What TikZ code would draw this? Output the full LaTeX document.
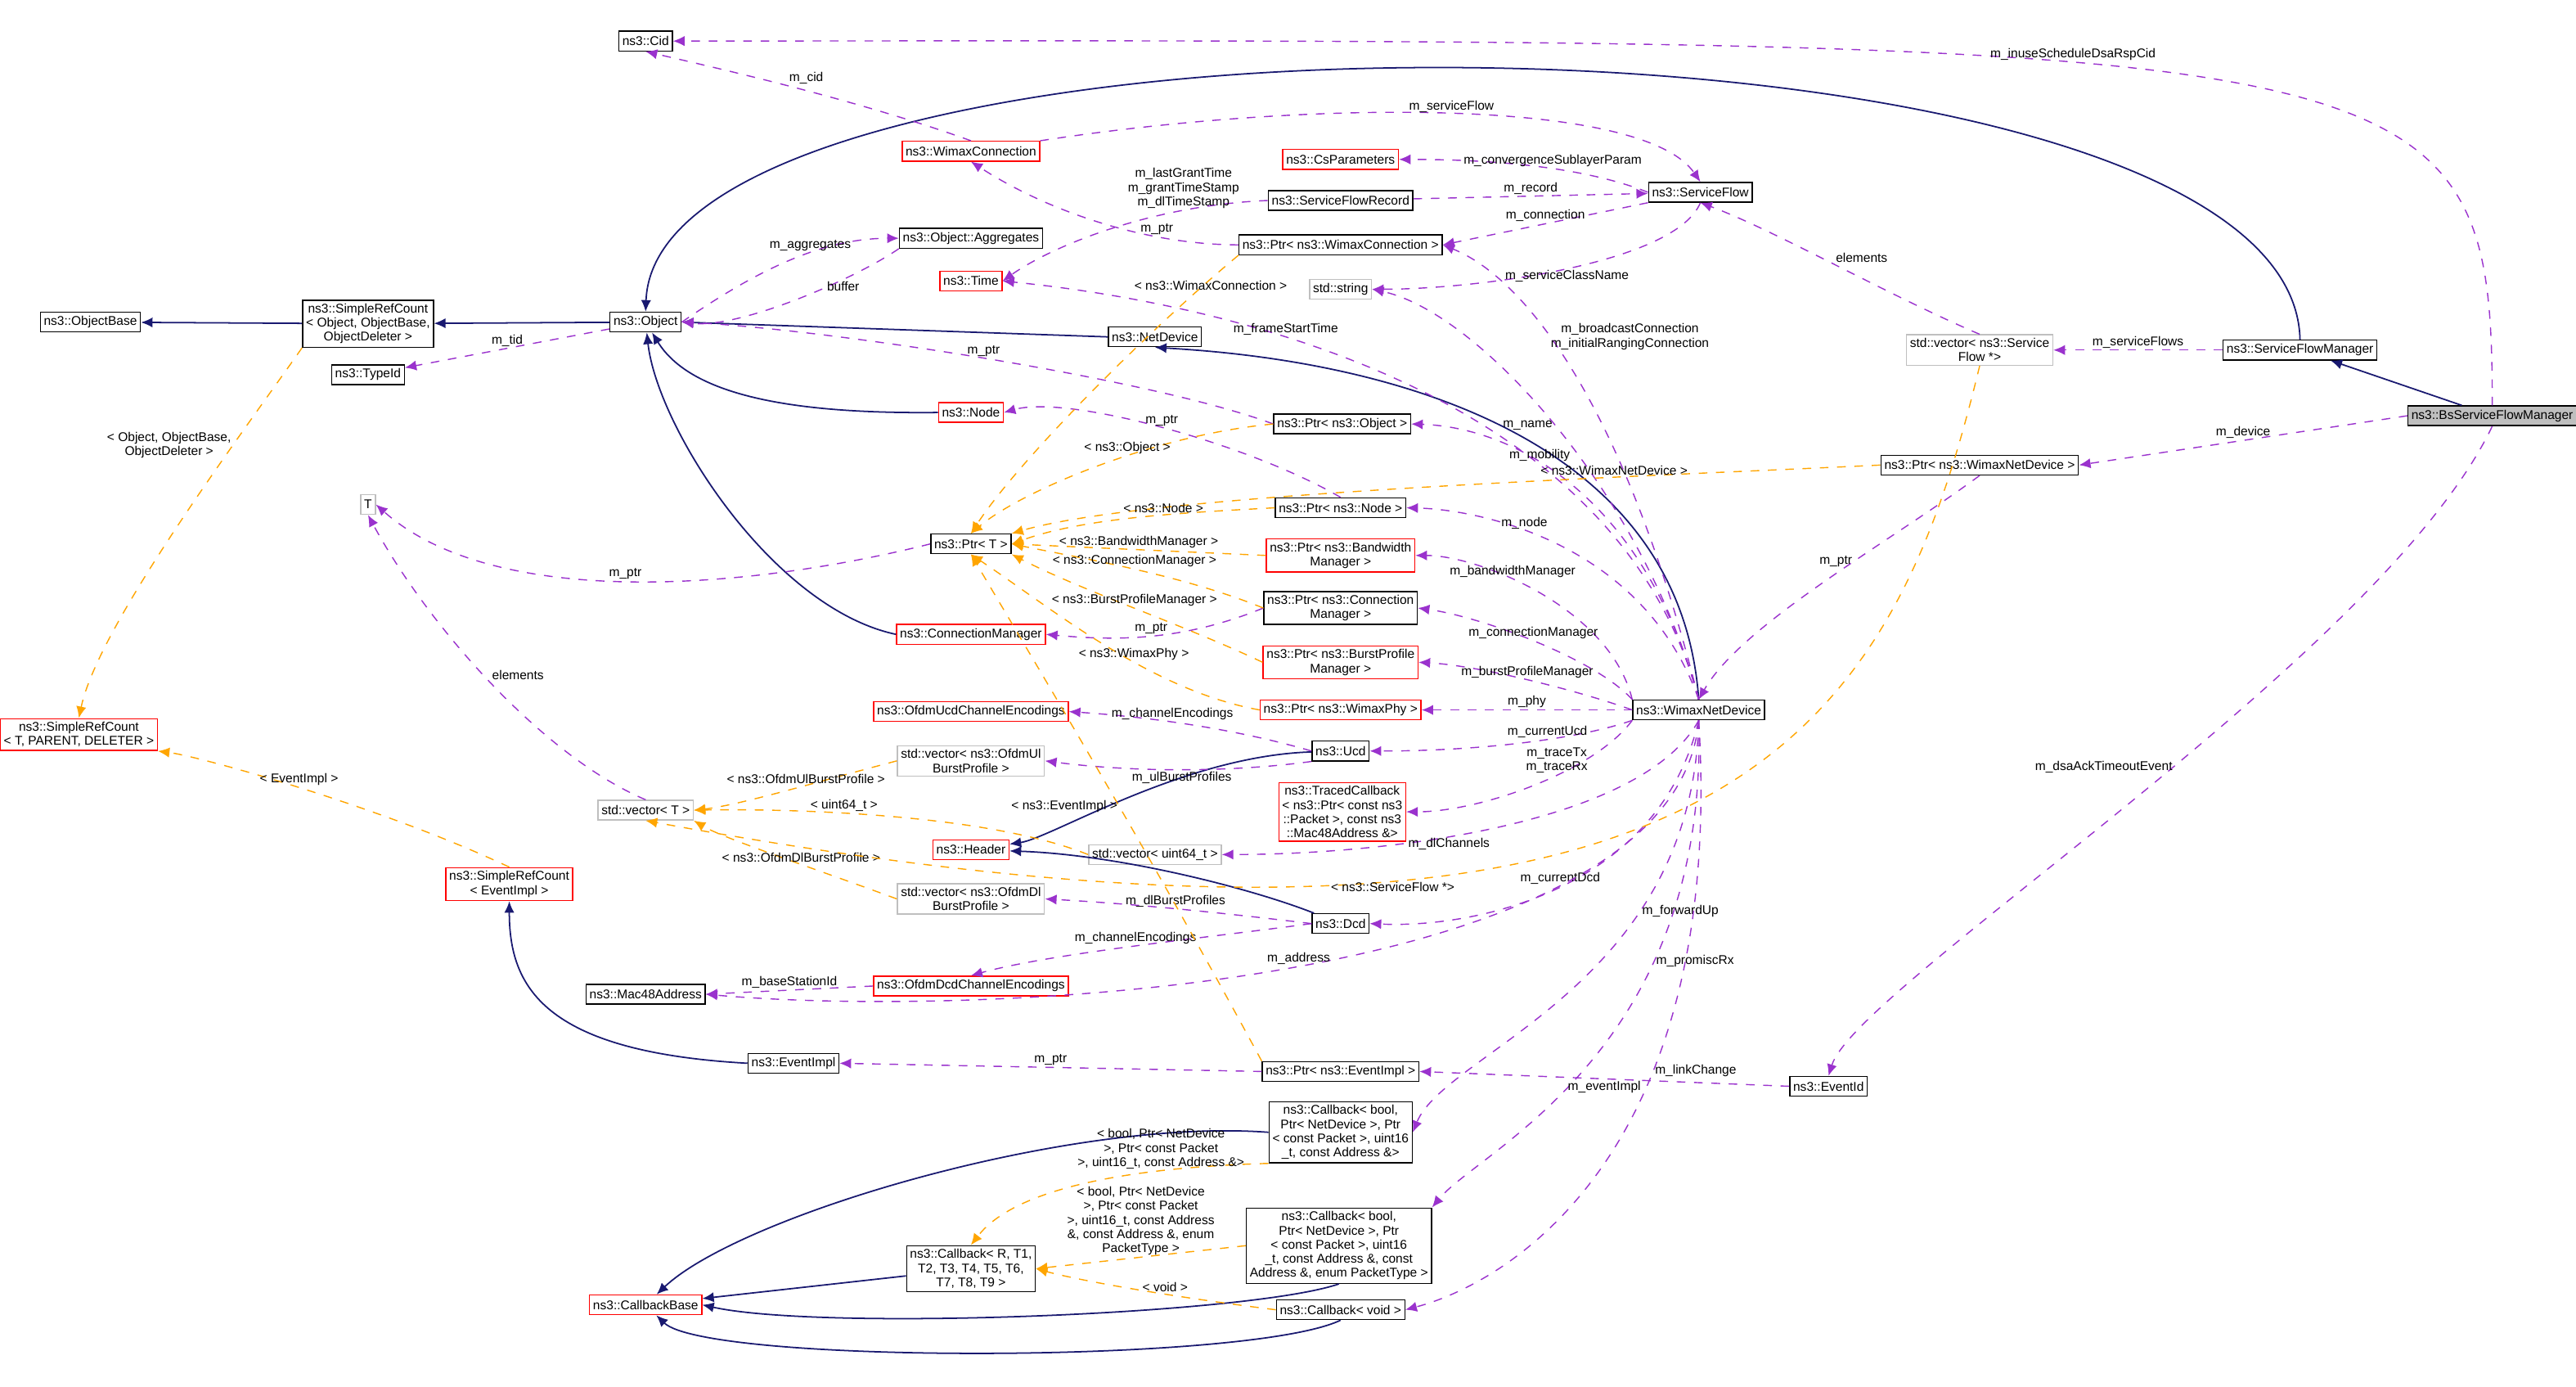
\documentclass[tikz,border=0pt]{standalone}
\usepackage{fontspec}
\setmainfont{Liberation Sans}
\usetikzlibrary{arrows.meta}
\definecolor{inhcol}{HTML}{191970}
\definecolor{usecol}{HTML}{9A32CD}
\definecolor{tplcol}{HTML}{FFA500}
\definecolor{grycol}{HTML}{BFBFBF}
\tikzset{
  cls/.style={draw, fill=white, inner sep=1.2pt, align=center, line width=0.4pt,
    font=\fontsize{4.4}{4.9}\selectfont, minimum height=0.24cm},
  redcls/.style={cls, draw=red},
  grycls/.style={cls, draw=grycol},
  curcls/.style={cls, fill=grycol},
  inh/.style={draw=inhcol, line width=0.5pt, -{Latex[length=4pt,width=3.5pt]}},
  use/.style={draw=usecol, dashed, line width=0.4pt, -{Latex[length=4pt,width=3.5pt]}},
  tpl/.style={draw=tplcol, dashed, line width=0.4pt, -{Latex[length=4pt,width=3.5pt]}},
  lbl/.style={font=\fontsize{4.4}{4.9}\selectfont, align=center, inner sep=0.5pt}
}
\begin{document}
\begin{tikzpicture}[x=0.02cm,y=-0.02cm]
\useasboundingbox (0,0) rectangle (1568,844);
% classes
\node (cid) at (393,25) [cls]{ns3::Cid};
\node (wcon) at (591,92) [redcls]{ns3::WimaxConnection};
\node (csp) at (816,97) [redcls]{ns3::CsParameters};
\node (sflow) at (1035,117) [cls]{ns3::ServiceFlow};
\node (sfrec) at (816,122) [cls]{ns3::ServiceFlowRecord};
\node (aggr) at (591,145) [cls]{ns3::Object::Aggregates};
\node (ptrwcon) at (816,149) [cls]{ns3::Ptr< ns3::WimaxConnection >};
\node (time) at (591,171) [redcls]{ns3::Time};
\node (str) at (816,176) [grycls]{std::string};
\node (objbase) at (55,196) [cls]{ns3::ObjectBase};
\node (srcobj) at (224,197) [cls]{ns3::SimpleRefCount\\< Object, ObjectBase,\\ObjectDeleter >};
\node (object) at (393,196) [cls]{ns3::Object};
\node (netdev) at (703,205) [cls]{ns3::NetDevice};
\node (vecsf) at (1205,213) [grycls]{std::vector< ns3::Service\\Flow *>};
\node (sfm) at (1400,213) [cls]{ns3::ServiceFlowManager};
\node (typeid) at (224,228) [cls]{ns3::TypeId};
\node (bsfm) at (1517,253) [curcls]{ns3::BsServiceFlowManager};
\node (node) at (591,251) [redcls]{ns3::Node};
\node (ptrobj) at (817,258) [cls]{ns3::Ptr< ns3::Object >};
\node (ptrwnd) at (1205,283) [cls]{ns3::Ptr< ns3::WimaxNetDevice >};
\node (ptrnode) at (816,309) [cls]{ns3::Ptr< ns3::Node >};
\node (ptrt) at (591,331) [cls]{ns3::Ptr< T >};
\node (ptrbw) at (816,338) [redcls]{ns3::Ptr< ns3::Bandwidth\\Manager >};
\node (ptrcm) at (816,370) [cls]{ns3::Ptr< ns3::Connection\\Manager >};
\node (conman) at (591,386) [redcls]{ns3::ConnectionManager};
\node (ptrbp) at (816,403) [redcls]{ns3::Ptr< ns3::BurstProfile\\Manager >};
\node (tcls) at (224,307) [grycls]{T};
\node (ptrphy) at (816,432) [redcls]{ns3::Ptr< ns3::WimaxPhy >};
\node (ucdenc) at (591,433) [redcls]{ns3::OfdmUcdChannelEncodings};
\node (wnd) at (1034,432) [cls]{ns3::WimaxNetDevice};
\node (srct) at (48,447) [redcls]{ns3::SimpleRefCount\\< T, PARENT, DELETER >};
\node (ucd) at (816,457) [cls]{ns3::Ucd};
\node (vecul) at (591,463) [grycls]{std::vector< ns3::OfdmUl\\BurstProfile >};
\node (vect) at (393,493) [grycls]{std::vector< T >};
\node (traced) at (817,494) [redcls]{ns3::TracedCallback\\< ns3::Ptr< const ns3\\::Packet >, const ns3\\::Mac48Address \&>};
\node (header) at (591,517) [redcls]{ns3::Header};
\node (vecu64) at (703,520) [grycls]{std::vector< uint64\_t >};
\node (srcev) at (310,538) [redcls]{ns3::SimpleRefCount\\< EventImpl >};
\node (vecdl) at (591,547) [grycls]{std::vector< ns3::OfdmDl\\BurstProfile >};
\node (dcd) at (816,562) [cls]{ns3::Dcd};
\node (mac) at (393,605) [cls]{ns3::Mac48Address};
\node (dcdenc) at (591,600) [redcls]{ns3::OfdmDcdChannelEncodings};
\node (evimpl) at (483,647) [cls]{ns3::EventImpl};
\node (ptrev) at (816,652) [cls]{ns3::Ptr< ns3::EventImpl >};
\node (evid) at (1113,661) [cls]{ns3::EventId};
\node (cbfwd) at (816,689) [cls]{ns3::Callback< bool,\\Ptr< NetDevice >, Ptr\\< const Packet >, uint16\\\_t, const Address \&>};
\node (cbgen) at (591,772) [cls]{ns3::Callback< R, T1,\\T2, T3, T4, T5, T6,\\T7, T8, T9 >};
\node (cbprom) at (815,758) [cls]{ns3::Callback< bool,\\Ptr< NetDevice >, Ptr\\< const Packet >, uint16\\\_t, const Address \&, const\\Address \&, enum PacketType >};
\node (cbbase) at (393,794) [redcls]{ns3::CallbackBase};
\node (cbvoid) at (816,797) [cls]{ns3::Callback< void >};

% inheritance
\draw[inh] (srcobj) -- (objbase);
\draw[inh] (object) -- (srcobj);
\draw[inh] (netdev.west) -- (object.east);
\draw[inh] (node.west) .. controls (480,252) and (420,240) .. (object);
\draw[inh] (conman.west) .. controls (470,370) and (400,260) .. (object);
\draw[inh] (sfm.north) .. controls (1395,-10) and (400,-10) .. (object.north);
\draw[inh] (bsfm) -- (sfm);
\draw[inh] (wnd.north) .. controls (1020,230) and (760,215) .. (netdev.south);
\draw[inh] (ucd) .. controls (720,460) and (640,510) .. (header);
\draw[inh] (dcd) .. controls (760,540) and (680,520) .. (header);
\draw[inh] (evimpl.west) .. controls (330,640) and (310,600) .. (srcev.south);
\draw[inh] (cbgen) -- (cbbase);
\draw[inh] (cbfwd.west) .. controls (650,680) and (450,740) .. (cbbase);
\draw[inh] (cbprom.south) .. controls (760,800) and (500,810) .. (cbbase.east);
\draw[inh] (cbvoid.south) .. controls (760,830) and (430,830) .. (cbbase);

% members
\draw[use] (bsfm.north) .. controls (1517,22) and (1480,24) .. node[lbl, pos=0.6, above]{m\_inuseScheduleDsaRspCid} (cid.east);
\draw[use] (wcon.north) .. controls (520,60) and (430,40) .. node[lbl, pos=0.5, above right]{m\_cid} (cid.south);
\draw[use] (wcon.north east) .. controls (800,60) and (1000,60) .. node[lbl, pos=0.5, above]{m\_serviceFlow} (sflow.north);
\draw[use] (sflow.west) .. controls (960,100) and (900,97) .. node[lbl, pos=0.4, above]{m\_convergenceSublayerParam} (csp.east);
\draw[use] (sfrec) -- node[lbl, above]{m\_record} (sflow);
\draw[use] (sflow.south west) -- node[lbl, above, pos=0.5]{m\_connection} (ptrwcon.east);
\draw[use] (sflow.south) .. controls (1020,160) and (900,176) .. node[lbl, pos=0.5, below]{m\_serviceClassName} (str.east);
\draw[use] (object.east) .. controls (460,165) and (500,145) .. node[lbl, pos=0.6, above]{m\_aggregates} (aggr.west);
\draw[use] (aggr.south west) .. controls (520,170) and (450,200) .. node[lbl, pos=0.3, below]{buffer} (object.east);
\draw[use] (sfrec.west) .. controls (700,125) and (640,150) .. node[lbl, pos=0.25, above]{m\_lastGrantTime\\m\_grantTimeStamp\\m\_dlTimeStamp} (time.east);
\draw[use] (ptrwcon.west) .. controls (700,149) and (640,130) .. node[lbl, pos=0.3, above]{m\_ptr} (wcon.south);
\draw[use] (object) -- node[lbl, above]{m\_tid} (typeid);
\draw[use] (wnd.north) .. controls (990,250) and (930,170) .. node[lbl, pos=0.6, right]{m\_broadcastConnection\\m\_initialRangingConnection} (ptrwcon.east);
\draw[use] (wnd.north) .. controls (1000,300) and (900,190) .. node[lbl, pos=0.5, left]{m\_name} (str.east);
\draw[use] (wnd.north) .. controls (980,220) and (700,180) .. node[lbl, pos=0.6, above]{m\_frameStartTime} (time.east);
\draw[use] (ptrobj.west) .. controls (700,230) and (500,200) .. node[lbl, pos=0.5, above]{m\_ptr} (object.east);
\draw[use] (ptrnode.north) .. controls (760,270) and (650,240) .. node[lbl, pos=0.5, above]{m\_ptr} (node.east);
\draw[use] (wnd.north) .. controls (1000,300) and (920,260) .. node[lbl, pos=0.6, above]{m\_mobility} (ptrobj.east);
\draw[use] (wnd.north) .. controls (1000,330) and (900,310) .. node[lbl, pos=0.6, above]{m\_node} (ptrnode.east);
\draw[use] (wnd.north west) .. controls (980,370) and (900,338) .. node[lbl, pos=0.6, above]{m\_bandwidthManager} (ptrbw.east);
\draw[use] (wnd.north west) .. controls (970,400) and (900,375) .. node[lbl, pos=0.5, above]{m\_connectionManager} (ptrcm.east);
\draw[use] (wnd.west) .. controls (960,420) and (900,405) .. node[lbl, pos=0.5, above]{m\_burstProfileManager} (ptrbp.east);
\draw[use] (wnd.west) -- node[lbl, above]{m\_phy} (ptrphy.east);
\draw[use] (wnd.south west) .. controls (960,450) and (900,457) .. node[lbl, pos=0.4, above]{m\_currentUcd} (ucd.east);
\draw[use] (wnd.south west) .. controls (970,470) and (900,494) .. node[lbl, pos=0.4, above]{m\_traceTx\\m\_traceRx} (traced.east);
\draw[use] (wnd.south) .. controls (1000,500) and (850,520) .. node[lbl, pos=0.6, below]{m\_dlChannels} (vecu64.east);
\draw[use] (wnd.south) .. controls (1010,540) and (900,565) .. node[lbl, pos=0.5, above]{m\_currentDcd} (dcd.east);
\draw[use] (wnd.south) .. controls (1020,600) and (600,620) .. node[lbl, pos=0.5, above]{m\_address} (mac.east);
\draw[use] (wnd.south) .. controls (1030,600) and (880,640) .. node[lbl, pos=0.3, right]{m\_forwardUp} (cbfwd.east);
\draw[use] (wnd.south) .. controls (1040,640) and (900,700) .. node[lbl, pos=0.3, right]{m\_promiscRx} (cbprom.north east);
\draw[use] (wnd.south) .. controls (1050,700) and (920,780) .. node[lbl, pos=0.35, right]{m\_linkChange} (cbvoid.east);
\draw[use] (ptrwnd.south) .. controls (1150,330) and (1060,380) .. node[lbl, pos=0.4, left]{m\_ptr} (wnd.north);
\draw[use] (bsfm.west) -- node[lbl, above]{m\_device} (ptrwnd.east);
\draw[use] (bsfm.south) .. controls (1450,400) and (1130,600) .. node[lbl, pos=0.45, left]{m\_dsaAckTimeoutEvent} (evid.north);
\draw[use] (sfm.west) -- node[lbl, above]{m\_serviceFlows} (vecsf.east);
\draw[use] (vecsf.north) .. controls (1150,180) and (1080,140) .. node[lbl, pos=0.5, above right]{elements} (sflow.south);
\draw[use] (ptrt.west) .. controls (450,360) and (300,370) .. node[lbl, pos=0.5, above]{m\_ptr} (tcls.east);
\draw[use] (vect.north) .. controls (330,460) and (260,380) .. node[lbl, pos=0.5, above right]{elements} (tcls.south);
\draw[use] (ptrcm.west) .. controls (720,390) and (680,390) .. node[lbl, pos=0.5, above]{m\_ptr} (conman.east);
\draw[use] (ucd.west) .. controls (740,440) and (680,435) .. node[lbl, pos=0.5, above]{m\_channelEncodings} (ucdenc.east);
\draw[use] (ucd.south west) .. controls (750,470) and (690,470) .. node[lbl, pos=0.5, below]{m\_ulBurstProfiles} (vecul.east);
\draw[use] (dcd.west) .. controls (740,555) and (690,550) .. node[lbl, pos=0.5, above]{m\_dlBurstProfiles} (vecdl.east);
\draw[use] (dcd.west) .. controls (740,570) and (640,580) .. node[lbl, pos=0.5, above]{m\_channelEncodings} (dcdenc.north);
\draw[use] (dcdenc.west) -- node[lbl, above]{m\_baseStationId} (mac.east);
\draw[use] (ptrev.west) -- node[lbl, above]{m\_ptr} (evimpl.east);
\draw[use] (evid.west) -- node[lbl, below]{m\_eventImpl} (ptrev.east);

% template instances
\draw[tpl] (srcobj.south west) .. controls (150,260) and (60,380) .. node[lbl, pos=0.3, left]{< Object, ObjectBase,\\ObjectDeleter >} (srct.north);
\draw[tpl] (srcev.north) .. controls (230,490) and (120,460) .. node[lbl, pos=0.5, above]{< EventImpl >} (srct.south east);
\draw[tpl] (ptrwcon.south west) .. controls (700,200) and (620,280) .. node[lbl, pos=0.1, below]{< ns3::WimaxConnection >} (ptrt.north);
\draw[tpl] (ptrobj.west) .. controls (700,265) and (620,300) .. node[lbl, pos=0.4, above]{< ns3::Object >} (ptrt.north);
\draw[tpl] (ptrwnd.west) .. controls (1000,290) and (700,300) .. node[lbl, pos=0.3, above]{< ns3::WimaxNetDevice >} (ptrt.north east);
\draw[tpl] (ptrnode.west) .. controls (720,312) and (660,315) .. node[lbl, pos=0.4, above]{< ns3::Node >} (ptrt.east);
\draw[tpl] (ptrbw.west) -- node[lbl, above]{< ns3::BandwidthManager >} (ptrt.east);
\draw[tpl] (ptrcm.west) .. controls (720,350) and (660,340) .. node[lbl, pos=0.5, above]{< ns3::ConnectionManager >} (ptrt.east);
\draw[tpl] (ptrbp.west) .. controls (720,380) and (660,360) .. node[lbl, pos=0.5, above]{< ns3::BurstProfileManager >} (ptrt.south east);
\draw[tpl] (ptrphy.west) .. controls (700,420) and (640,370) .. node[lbl, pos=0.4, above]{< ns3::WimaxPhy >} (ptrt.south);
\draw[tpl] (ptrev.north west) .. controls (700,520) and (640,420) .. node[lbl, pos=0.45, left]{< ns3::EventImpl >} (ptrt.south);
\draw[tpl] (vecul.west) .. controls (500,475) and (450,490) .. node[lbl, pos=0.4, above]{< ns3::OfdmUlBurstProfile >} (vect.east);
\draw[tpl] (vecu64.west) .. controls (600,495) and (480,492) .. node[lbl, pos=0.6, above]{< uint64\_t >} (vect.east);
\draw[tpl] (vecdl.west) .. controls (500,530) and (440,510) .. node[lbl, pos=0.4, above]{< ns3::OfdmDlBurstProfile >} (vect.south east);
\draw[tpl] (vecsf.south) .. controls (1150,450) and (1050,620) .. node[lbl, pos=0.7, below]{< ns3::ServiceFlow *>} (vect.south);
\draw[tpl] (cbfwd.south west) .. controls (700,710) and (620,720) .. node[lbl, pos=0.3, above]{< bool, Ptr< NetDevice\\>, Ptr< const Packet\\>, uint16\_t, const Address \&>} (cbgen.north);
\draw[tpl] (cbprom.west) -- node[lbl, above]{< bool, Ptr< NetDevice\\>, Ptr< const Packet\\>, uint16\_t, const Address\\\&, const Address \&, enum\\PacketType >} (cbgen.east);
\draw[tpl] (cbvoid.west) .. controls (720,790) and (660,780) .. node[lbl, pos=0.4, above]{< void >} (cbgen.east);
\end{tikzpicture}
\end{document}
